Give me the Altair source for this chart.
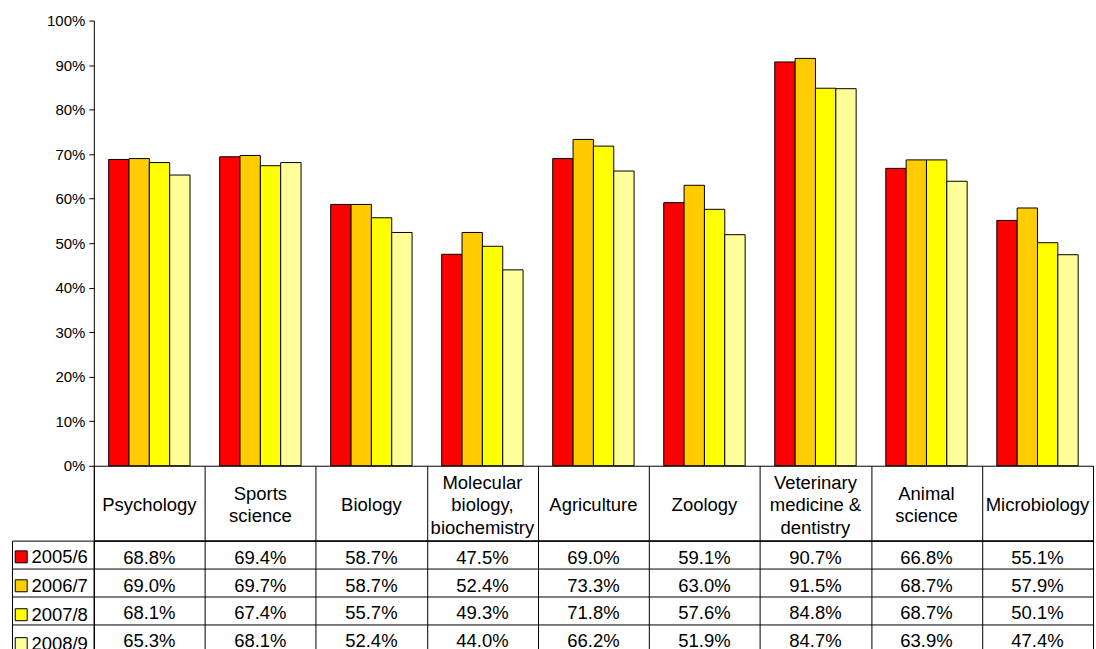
import altair as alt
import pandas as pd

subjects = [
    "Psychology",
    "Sports science",
    "Biology",
    "Molecular biology, biochemistry",
    "Agriculture",
    "Zoology",
    "Veterinary medicine & dentistry",
    "Animal science",
    "Microbiology",
]
header_labels = [
    "Psychology",
    "Sports\nscience",
    "Biology",
    "Molecular\nbiology,\nbiochemistry",
    "Agriculture",
    "Zoology",
    "Veterinary\nmedicine &\ndentistry",
    "Animal\nscience",
    "Microbiology",
]
years = ["2005/6", "2006/7", "2007/8", "2008/9"]
year_colors = ["#FF0000", "#FFCC00", "#FFFF00", "#FFFF99"]

share_2005 = [0.688, 0.694, 0.587, 0.475, 0.690, 0.591, 0.907, 0.668, 0.551]
share_2006 = [0.690, 0.697, 0.587, 0.524, 0.733, 0.630, 0.915, 0.687, 0.579]
share_2007 = [0.681, 0.674, 0.557, 0.493, 0.718, 0.576, 0.848, 0.687, 0.501]
share_2008 = [0.653, 0.681, 0.524, 0.440, 0.662, 0.519, 0.847, 0.639, 0.474]

series = dict(zip(years, [share_2005, share_2006, share_2007, share_2008]))
df = pd.DataFrame(
    [
        {"subject": s, "year": y, "value": vals[i]}
        for y, vals in series.items()
        for i, s in enumerate(subjects)
    ]
)
hdr = pd.DataFrame(
    {
        "subject": subjects,
        "label": header_labels,
        "lines": [lbl.count("\n") + 1 for lbl in header_labels],
    }
)

FONT = "Liberation Sans"
FONT_SIZE = 18.5
LINE_H = 22.5
PLOT_W = 1001

col_scale = alt.Scale(domain=subjects, paddingInner=0, paddingOuter=0)
row_scale = alt.Scale(domain=years, paddingInner=0, paddingOuter=0)

# column borders of the table, drawn as grid lines on the band edges
col_axis = alt.Axis(
    tickBand="extent",
    grid=True,
    gridColor="black",
    gridOpacity=1,
    labels=False,
    ticks=False,
    domain=False,
    title=None,
)

# bar chart: four years side by side within each subject
bars = alt.Chart(df).mark_bar(stroke="black", strokeWidth=1).encode(
    x=alt.X(
        "subject:N",
        sort=subjects,
        scale=alt.Scale(domain=subjects, paddingInner=0.267, paddingOuter=0.1335),
        axis=None,
    ),
    xOffset=alt.XOffset("year:N", sort=years, scale=row_scale),
    y=alt.Y(
        "value:Q",
        scale=alt.Scale(domain=[0, 1], nice=False),
        axis=alt.Axis(
            format="%",
            values=[i / 10 for i in range(11)],
            grid=False,
            title=None,
            domainColor="black",
            tickColor="black",
            tickSize=5,
            labelPadding=4,
            labelColor="black",
            labelFont=FONT,
            labelFontSize=15,
        ),
    ),
    color=alt.Color(
        "year:N",
        sort=years,
        scale=alt.Scale(domain=years, range=year_colors),
        legend=alt.Legend(
            title=None,
            orient="none",
            legendX=-85,
            legendY=525,
            direction="vertical",
            symbolType="square",
            symbolSize=144,
            symbolStrokeColor="black",
            symbolStrokeWidth=1,
            symbolOpacity=1,
            labelFont=FONT,
            labelFontSize=FONT_SIZE,
            labelColor="black",
            labelOffset=1,
            rowPadding=10,
            padding=3,
        ),
    ),
).properties(width=PLOT_W, height=446, view=alt.ViewBackground(stroke="transparent"))

# header row of the data table: subject names, each block centred in its cell
hdr_base = alt.Chart(hdr).encode(
    x=alt.X("subject:N", sort=subjects, scale=col_scale, axis=col_axis),
    text="label:N",
)
hdr_layers = [
    hdr_base.mark_text(
        font=FONT,
        fontSize=FONT_SIZE,
        lineBreak="\n",
        lineHeight=LINE_H,
        color="black",
        dy=2 - (n - 1) * LINE_H / 2,
    ).transform_filter(alt.datum.lines == n)
    for n in (1, 2, 3)
]
header = alt.layer(*hdr_layers).properties(width=PLOT_W, height=75)

# value rows of the data table
cells = alt.Chart(df).mark_text(font=FONT, fontSize=FONT_SIZE, color="black", dy=3).encode(
    x=alt.X("subject:N", sort=subjects, scale=col_scale, axis=col_axis),
    y=alt.Y(
        "year:N",
        sort=years,
        scale=row_scale,
        axis=alt.Axis(
            tickBand="extent",
            grid=True,
            gridColor="black",
            gridOpacity=1,
            labels=False,
            ticks=True,
            tickSize=82,
            tickColor="black",
            domain=True,
            domainColor="black",
            title=None,
        ),
    ),
    text=alt.Text("value:Q", format=".1%"),
)

# outer left edge of the legend column
edge = alt.Chart(df).mark_text(opacity=0).encode(
    y=alt.Y(
        "year:N",
        sort=years,
        scale=row_scale,
        axis=alt.Axis(
            orient="left",
            offset=82,
            labels=False,
            ticks=False,
            grid=False,
            domain=True,
            domainColor="black",
            title=None,
        ),
    ),
    text="year:N",
)

rows = alt.layer(cells, edge).resolve_axis(y="independent").properties(
    width=PLOT_W, height=112
)

chart = (
    alt.vconcat(bars, header, rows, spacing=0, bounds="flush")
    .properties(
        padding={"left": 9, "top": 12, "right": 2, "bottom": 0},
        background="white",
    )
    .configure_view(stroke="black", strokeWidth=1)
)

chart.save("out.html", embed_options={"renderer": "svg", "actions": False})
